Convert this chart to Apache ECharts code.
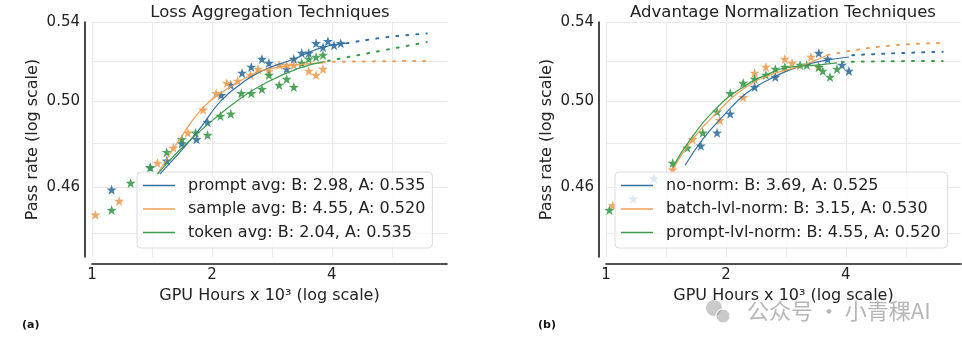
<!DOCTYPE html>
<html>
<head>
<meta charset="utf-8">
<script src="https://cdn.jsdelivr.net/npm/echarts@6/dist/echarts.min.js"></script>
<style>
html, body { margin: 0; padding: 0; background: #fff; }
#chart { width: 962px; height: 350px; }
</style>
</head>
<body>
<div id="chart"></div>
<script>
// GPU hours (x10^3) vs pass rate

// (a) loss aggregation
var promptAvgPts = [[1.12,0.459],[1.40,0.469],[1.54,0.472],[1.68,0.480],[1.83,0.482],[1.95,0.490],[2.11,0.503],[2.23,0.508],[2.38,0.514],[2.51,0.517],[2.67,0.521],[2.78,0.519],[3.08,0.516],[3.21,0.521],[3.36,0.524],[3.50,0.524],[3.65,0.529],[3.80,0.527],[3.91,0.530],[4.05,0.528],[4.21,0.529]];
var sampleAvgPts = [[1.02,0.448],[1.17,0.454],[1.46,0.471],[1.60,0.478],[1.74,0.485],[1.90,0.496],[2.05,0.504],[2.18,0.509],[2.32,0.510],[2.50,0.513],[2.61,0.516],[2.78,0.515],[2.95,0.518],[3.08,0.518],[3.21,0.518],[3.50,0.515],[3.65,0.513],[3.80,0.516]];
var tokenAvgPts = [[1.12,0.450],[1.25,0.462],[1.40,0.469],[1.54,0.476],[1.68,0.482],[1.82,0.485],[1.95,0.484],[2.10,0.493],[2.23,0.494],[2.37,0.504],[2.51,0.504],[2.67,0.506],[2.78,0.513],[2.95,0.508],[3.08,0.511],[3.21,0.507],[3.36,0.519],[3.50,0.521],[3.65,0.522],[3.80,0.523]];

var promptAvgFit = [[1.48,0.466],[1.83,0.485],[2.10,0.500],[2.38,0.509],[2.67,0.515],[3.21,0.521],[3.80,0.527],[4.36,0.529]];
var promptAvgExtra = [[4.36,0.529],[5.43,0.532],[6.92,0.534]];
var sampleAvgFit = [[1.46,0.466],[1.66,0.482],[1.90,0.497],[2.18,0.506],[2.51,0.513],[2.78,0.516],[3.27,0.518],[3.80,0.519]];
var sampleAvgExtra = [[3.80,0.5195],[5.20,0.5198],[6.92,0.520]];
var tokenAvgFit = [[1.46,0.466],[1.66,0.477],[2.01,0.491],[2.38,0.502],[2.67,0.508],[3.27,0.516],[3.80,0.5195]];
var tokenAvgExtra = [[3.91,0.520],[5.43,0.5255],[6.92,0.5296]];

// (b) advantage normalization
var noNormPts = [[1.17,0.455],[1.32,0.464],[1.73,0.479],[1.90,0.485],[2.05,0.494],[2.36,0.507],[2.66,0.512],[3.42,0.524],[3.60,0.521],[3.91,0.518],[4.07,0.515]];
var batchNormPts = [[1.04,0.452],[1.47,0.468],[1.65,0.482],[1.93,0.491],[2.21,0.502],[2.36,0.514],[2.52,0.517],[2.81,0.521],[2.93,0.519],[3.27,0.522],[3.42,0.517]];
var promptNormPts = [[1.02,0.450],[1.47,0.471],[1.60,0.478],[1.75,0.485],[1.90,0.495],[2.05,0.504],[2.21,0.509],[2.36,0.511],[2.52,0.513],[2.66,0.516],[2.81,0.517],[3.07,0.518],[3.19,0.518],[3.42,0.517],[3.50,0.515],[3.65,0.512],[3.80,0.516]];

var noNormFit = [[1.58,0.470],[1.75,0.482],[1.97,0.493],[2.25,0.504],[2.58,0.511],[3.03,0.517],[3.50,0.520],[4.07,0.522]];
var noNormExtra = [[4.15,0.5229],[5.50,0.5240],[7.00,0.5246]];
var batchNormFit = [[1.47,0.468],[1.65,0.482],[1.93,0.496],[2.21,0.506],[2.58,0.513],[3.03,0.517],[3.42,0.521],[3.60,0.523]];
var batchNormExtra = [[3.60,0.523],[5.00,0.5275],[7.00,0.5291]];
var promptNormFit = [[1.47,0.469],[1.63,0.482],[1.90,0.497],[2.17,0.506],[2.52,0.513],[2.93,0.517],[3.42,0.518],[3.80,0.519]];
var promptNormExtra = [[3.91,0.5195],[5.50,0.5199],[7.00,0.520]];

var legendA = ['prompt avg: B: 2.98, A: 0.535', 'sample avg: B: 4.55, A: 0.520', 'token avg: B: 2.04, A: 0.535'];
var legendB = ['no-norm: B: 3.69, A: 0.525', 'batch-lvl-norm: B: 3.15, A: 0.530', 'prompt-lvl-norm: B: 4.55, A: 0.520'];

// grid lines every half octave, labels on the octaves
var xGridValues = [1, 1.4142, 2, 2.8284, 4, 5.6569];
var xLabelValues = [1, 2, 4];
var yGridValues = [0.44, 0.46, 0.48, 0.50, 0.52, 0.54];
var yLabelValues = [0.46, 0.50, 0.54];
var X_MAX = 7.78, Y_MIN = 0.43, Y_MAX = 0.54;

var BLUE = '#33709f', ORANGE = '#eba056', GREEN = '#3d9b4c';
var FONT = 'DejaVu Sans';
var STAR = 'path://M0,-10L2.35,-3.24L9.51,-3.09L3.8,1.24L5.88,8.09L0,4L-5.88,8.09L-3.8,1.24L-9.51,-3.09L-2.35,-3.24Z';

function axesFor(i) {
    var x = {
        type: 'log', logBase: 2, min: 1, max: X_MAX,
        gridIndex: i, offset: 7,
        name: 'GPU Hours x 10\u00b3 (log scale)', nameLocation: 'middle', nameGap: 23,
        nameTextStyle: { fontFamily: FONT, fontSize: 16, color: '#222' },
        axisLine: { show: true, onZero: false, lineStyle: { color: '#1a1a1a', width: 1.6 } },
        axisTick: { show: false, customValues: xGridValues },
        splitLine: { show: true, lineStyle: { color: '#e9e9e9', width: 1 } },
        axisLabel: {
            customValues: xLabelValues, fontFamily: FONT, fontSize: 15, color: '#222', margin: 4,
            formatter: function (v) { return String(+(+v).toFixed(2)); }
        }
    };
    var y = {
        type: 'log', min: Y_MIN, max: Y_MAX,
        gridIndex: i, offset: 7,
        name: 'Pass rate (log scale)', nameLocation: 'middle', nameGap: 44,
        nameTextStyle: { fontFamily: FONT, fontSize: 16, color: '#222' },
        axisLine: { show: true, onZero: false, lineStyle: { color: '#1a1a1a', width: 1.6 } },
        axisTick: { show: false, customValues: yGridValues },
        splitLine: { show: true, lineStyle: { color: '#e9e9e9', width: 1 } },
        axisLabel: {
            customValues: yLabelValues, fontFamily: FONT, fontSize: 15, color: '#222', margin: 5,
            formatter: function (v) { return (+v).toFixed(2); }
        }
    };
    return { x: x, y: y };
}

function seriesFor(i, groups) {
    var out = [];
    groups.forEach(function (g) {
        out.push({
            type: 'scatter', name: g.name + ' pts', xAxisIndex: i, yAxisIndex: i,
            data: g.pts, symbol: STAR, symbolSize: 10,
            itemStyle: { color: g.color, opacity: 0.9 }, z: 3
        });
        out.push({
            type: 'line', name: g.name, xAxisIndex: i, yAxisIndex: i,
            data: g.fit, symbol: 'none', smooth: true,
            lineStyle: { color: g.color, width: 1.2 }, itemStyle: { color: g.color }, z: 4
        });
        out.push({
            type: 'line', name: g.name + ' extrapolated', xAxisIndex: i, yAxisIndex: i,
            data: g.extra, symbol: 'none', smooth: true,
            lineStyle: { color: g.color, width: 2, type: [2, 8], cap: 'round' }, z: 4
        });
    });
    return out;
}

function legendFor(left, names) {
    return {
        left: left, top: 172, orient: 'vertical',
        data: names, icon: 'rect', itemWidth: 32, itemHeight: 1.5, itemGap: 4.5,
        backgroundColor: 'rgba(255,255,255,0.82)', borderColor: '#dcdcdc', borderWidth: 1, borderRadius: 4,
        padding: [4, 7, 6, 6],
        textStyle: { fontFamily: FONT, fontSize: 16, color: '#222', lineHeight: 19, padding: [0, 0, 0, 8] }
    };
}

var axA = axesFor(0);
var axB = axesFor(1);

var option = {
    backgroundColor: '#fff',
    animation: false,
    title: [
        { text: 'Loss Aggregation Techniques', left: 270, top: 4, textAlign: 'center', padding: 0,
          textStyle: { fontFamily: FONT, fontSize: 16.5, fontWeight: 'normal', color: '#222' } },
        { text: 'Advantage Normalization Techniques', left: 783, top: 4, textAlign: 'center', padding: 0,
          textStyle: { fontFamily: FONT, fontSize: 16.5, fontWeight: 'normal', color: '#222' } }
    ],
    grid: [
        { left: 92, top: 22, width: 355, height: 235 },
        { left: 606, top: 22, width: 355, height: 235 }
    ],
    xAxis: [axA.x, axB.x],
    yAxis: [axA.y, axB.y],
    legend: [legendFor(137, legendA), legendFor(615, legendB)],
    series: seriesFor(0, [
        { name: legendA[0], color: BLUE, pts: promptAvgPts, fit: promptAvgFit, extra: promptAvgExtra },
        { name: legendA[1], color: ORANGE, pts: sampleAvgPts, fit: sampleAvgFit, extra: sampleAvgExtra },
        { name: legendA[2], color: GREEN, pts: tokenAvgPts, fit: tokenAvgFit, extra: tokenAvgExtra }
    ]).concat(seriesFor(1, [
        { name: legendB[0], color: BLUE, pts: noNormPts, fit: noNormFit, extra: noNormExtra },
        { name: legendB[1], color: ORANGE, pts: batchNormPts, fit: batchNormFit, extra: batchNormExtra },
        { name: legendB[2], color: GREEN, pts: promptNormPts, fit: promptNormFit, extra: promptNormExtra }
    ])),
    graphic: [
        { type: 'text', left: 22, top: 320, style: { text: '(a)', font: 'bold 11px "DejaVu Sans"', fill: '#111' } },
        { type: 'text', left: 538, top: 320, style: { text: '(b)', font: 'bold 11px "DejaVu Sans"', fill: '#111' } },
        // watermark
        { type: 'circle', shape: { cx: 714, cy: 308, r: 8 }, style: { fill: 'rgba(150,150,150,0.5)' } },
        { type: 'circle', shape: { cx: 723, cy: 316, r: 7 }, style: { fill: 'rgba(150,150,150,0.5)', stroke: '#fff', lineWidth: 1 } },
        { type: 'text', left: 747, top: 300, style: { text: '公众号 · 小青稞AI', font: '22px "Noto Sans CJK SC"', fill: 'rgba(110,110,110,0.5)' } }
    ]
};

var chart = echarts.init(document.getElementById('chart'), null, { renderer: 'canvas' });
chart.setOption(option);
</script>
</body>
</html>
